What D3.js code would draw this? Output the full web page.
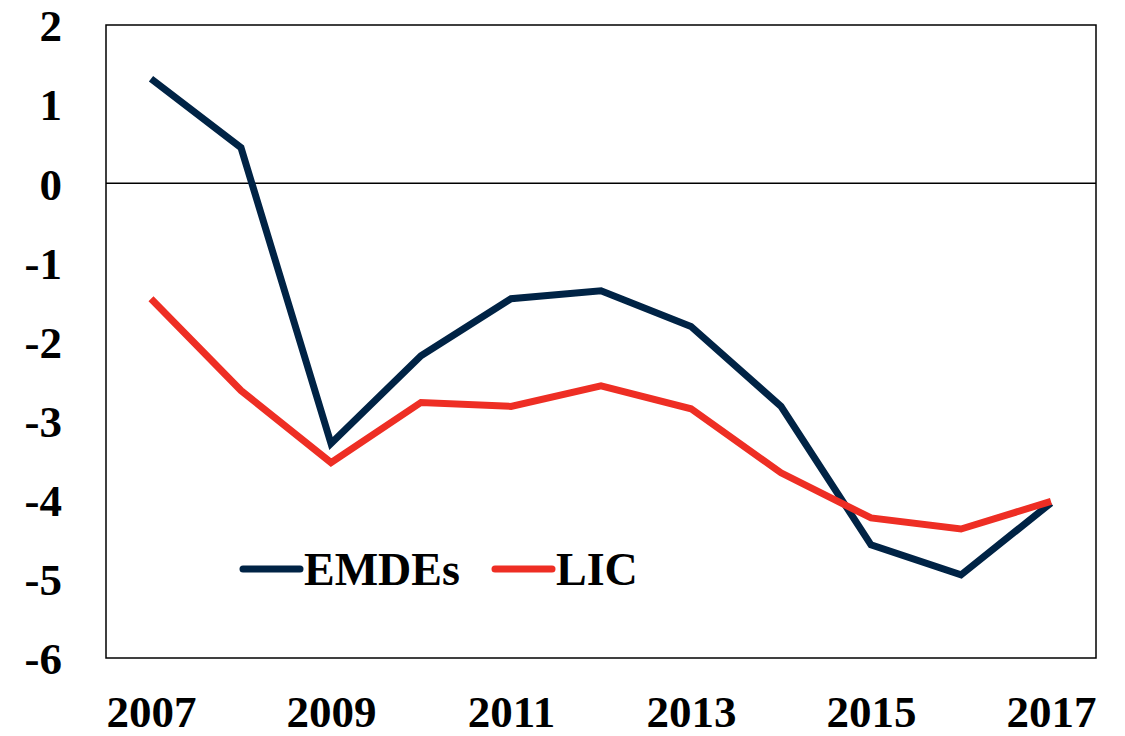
<!DOCTYPE html>
<html>
<head>
<meta charset="utf-8">
<script src="https://cdn.jsdelivr.net/npm/d3@7"></script>
<style>
  body { margin: 0; background: #fff; }
  text { font-family: "Liberation Serif", "Times New Roman", serif; font-weight: bold; fill: #000; }
</style>
</head>
<body>
<div id="chart"></div>
<script>
// Chart data
const years = ["2007", "2008", "2009", "2010", "2011", "2012", "2013", "2014", "2015", "2016", "2017"];
const emdes = [1.32, 0.45, -3.29, -2.18, -1.46, -1.36, -1.81, -2.82, -4.57, -4.95, -4.04];
const lic = [-1.46, -2.62, -3.53, -2.77, -2.82, -2.56, -2.85, -3.66, -4.23, -4.37, -4.02];
const yTicks = [2, 1, 0, -1, -2, -3, -4, -5, -6];
const xTickLabels = ["2007", "2009", "2011", "2013", "2015", "2017"];

const W = 1125, H = 736;
const margin = { top: 25, right: 29, bottom: 78, left: 106 };
const width = W - margin.left - margin.right;
const height = H - margin.top - margin.bottom;

const svg = d3.select("#chart").append("svg")
  .attr("width", W)
  .attr("height", H)
  .append("g")
  .attr("transform", `translate(${margin.left},${margin.top})`);

const x = d3.scalePoint()
  .domain(years)
  .range([0, width])
  .padding(0.5);

const y = d3.scaleLinear()
  .domain([-6, 2])
  .range([height, 0]);

// plot frame
svg.append("rect")
  .attr("x", 0).attr("y", 0)
  .attr("width", width).attr("height", height)
  .attr("fill", "none")
  .attr("stroke", "#000")
  .attr("stroke-width", 1.5);

// zero line
svg.append("line")
  .attr("x1", 0).attr("x2", width)
  .attr("y1", y(0)).attr("y2", y(0))
  .attr("stroke", "#000")
  .attr("stroke-width", 1.5);

// Y axis labels (plain hyphen for negatives, like the reference)
svg.append("g")
  .call(d3.axisLeft(y).tickValues(yTicks).tickSize(0).tickPadding(44).tickFormat(d => String(d)))
  .call(g => g.select(".domain").remove())
  .selectAll("text")
  .style("font-size", "45px")
  .attr("dy", "0.35em");

// X axis labels
svg.append("g")
  .attr("transform", `translate(0,${height})`)
  .call(d3.axisBottom(x).tickValues(xTickLabels).tickSize(0).tickPadding(37))
  .call(g => g.select(".domain").remove())
  .selectAll("text")
  .style("font-size", "45px");

const series = [
  { name: "EMDEs", values: emdes, color: "#002345" },
  { name: "LIC", values: lic, color: "#EE2E24" }
];

const line = d3.line()
  .x((d, i) => x(years[i]))
  .y(d => y(d));

series.forEach(s => {
  svg.append("path")
    .datum(s.values)
    .attr("fill", "none")
    .attr("stroke", s.color)
    .attr("stroke-width", 7)
    .attr("stroke-linejoin", "miter")
    .attr("d", line);
});

// Legend
const legend = svg.append("g")
  .attr("transform", `translate(${243 - margin.left}, ${569 - margin.top})`);

const legendX = [0, 252];
series.forEach((s, i) => {
  const item = legend.append("g").attr("transform", `translate(${legendX[i]},0)`);
  item.append("line")
    .attr("x1", 0).attr("x2", 57)
    .attr("y1", 0).attr("y2", 0)
    .attr("stroke", s.color)
    .attr("stroke-width", 7)
    .attr("stroke-linecap", "round");
  item.append("text")
    .attr("x", 61)
    .attr("y", 0)
    .attr("dy", "0.35em")
    .style("font-size", "46px")
    .text(s.name);
});
</script>
</body>
</html>
